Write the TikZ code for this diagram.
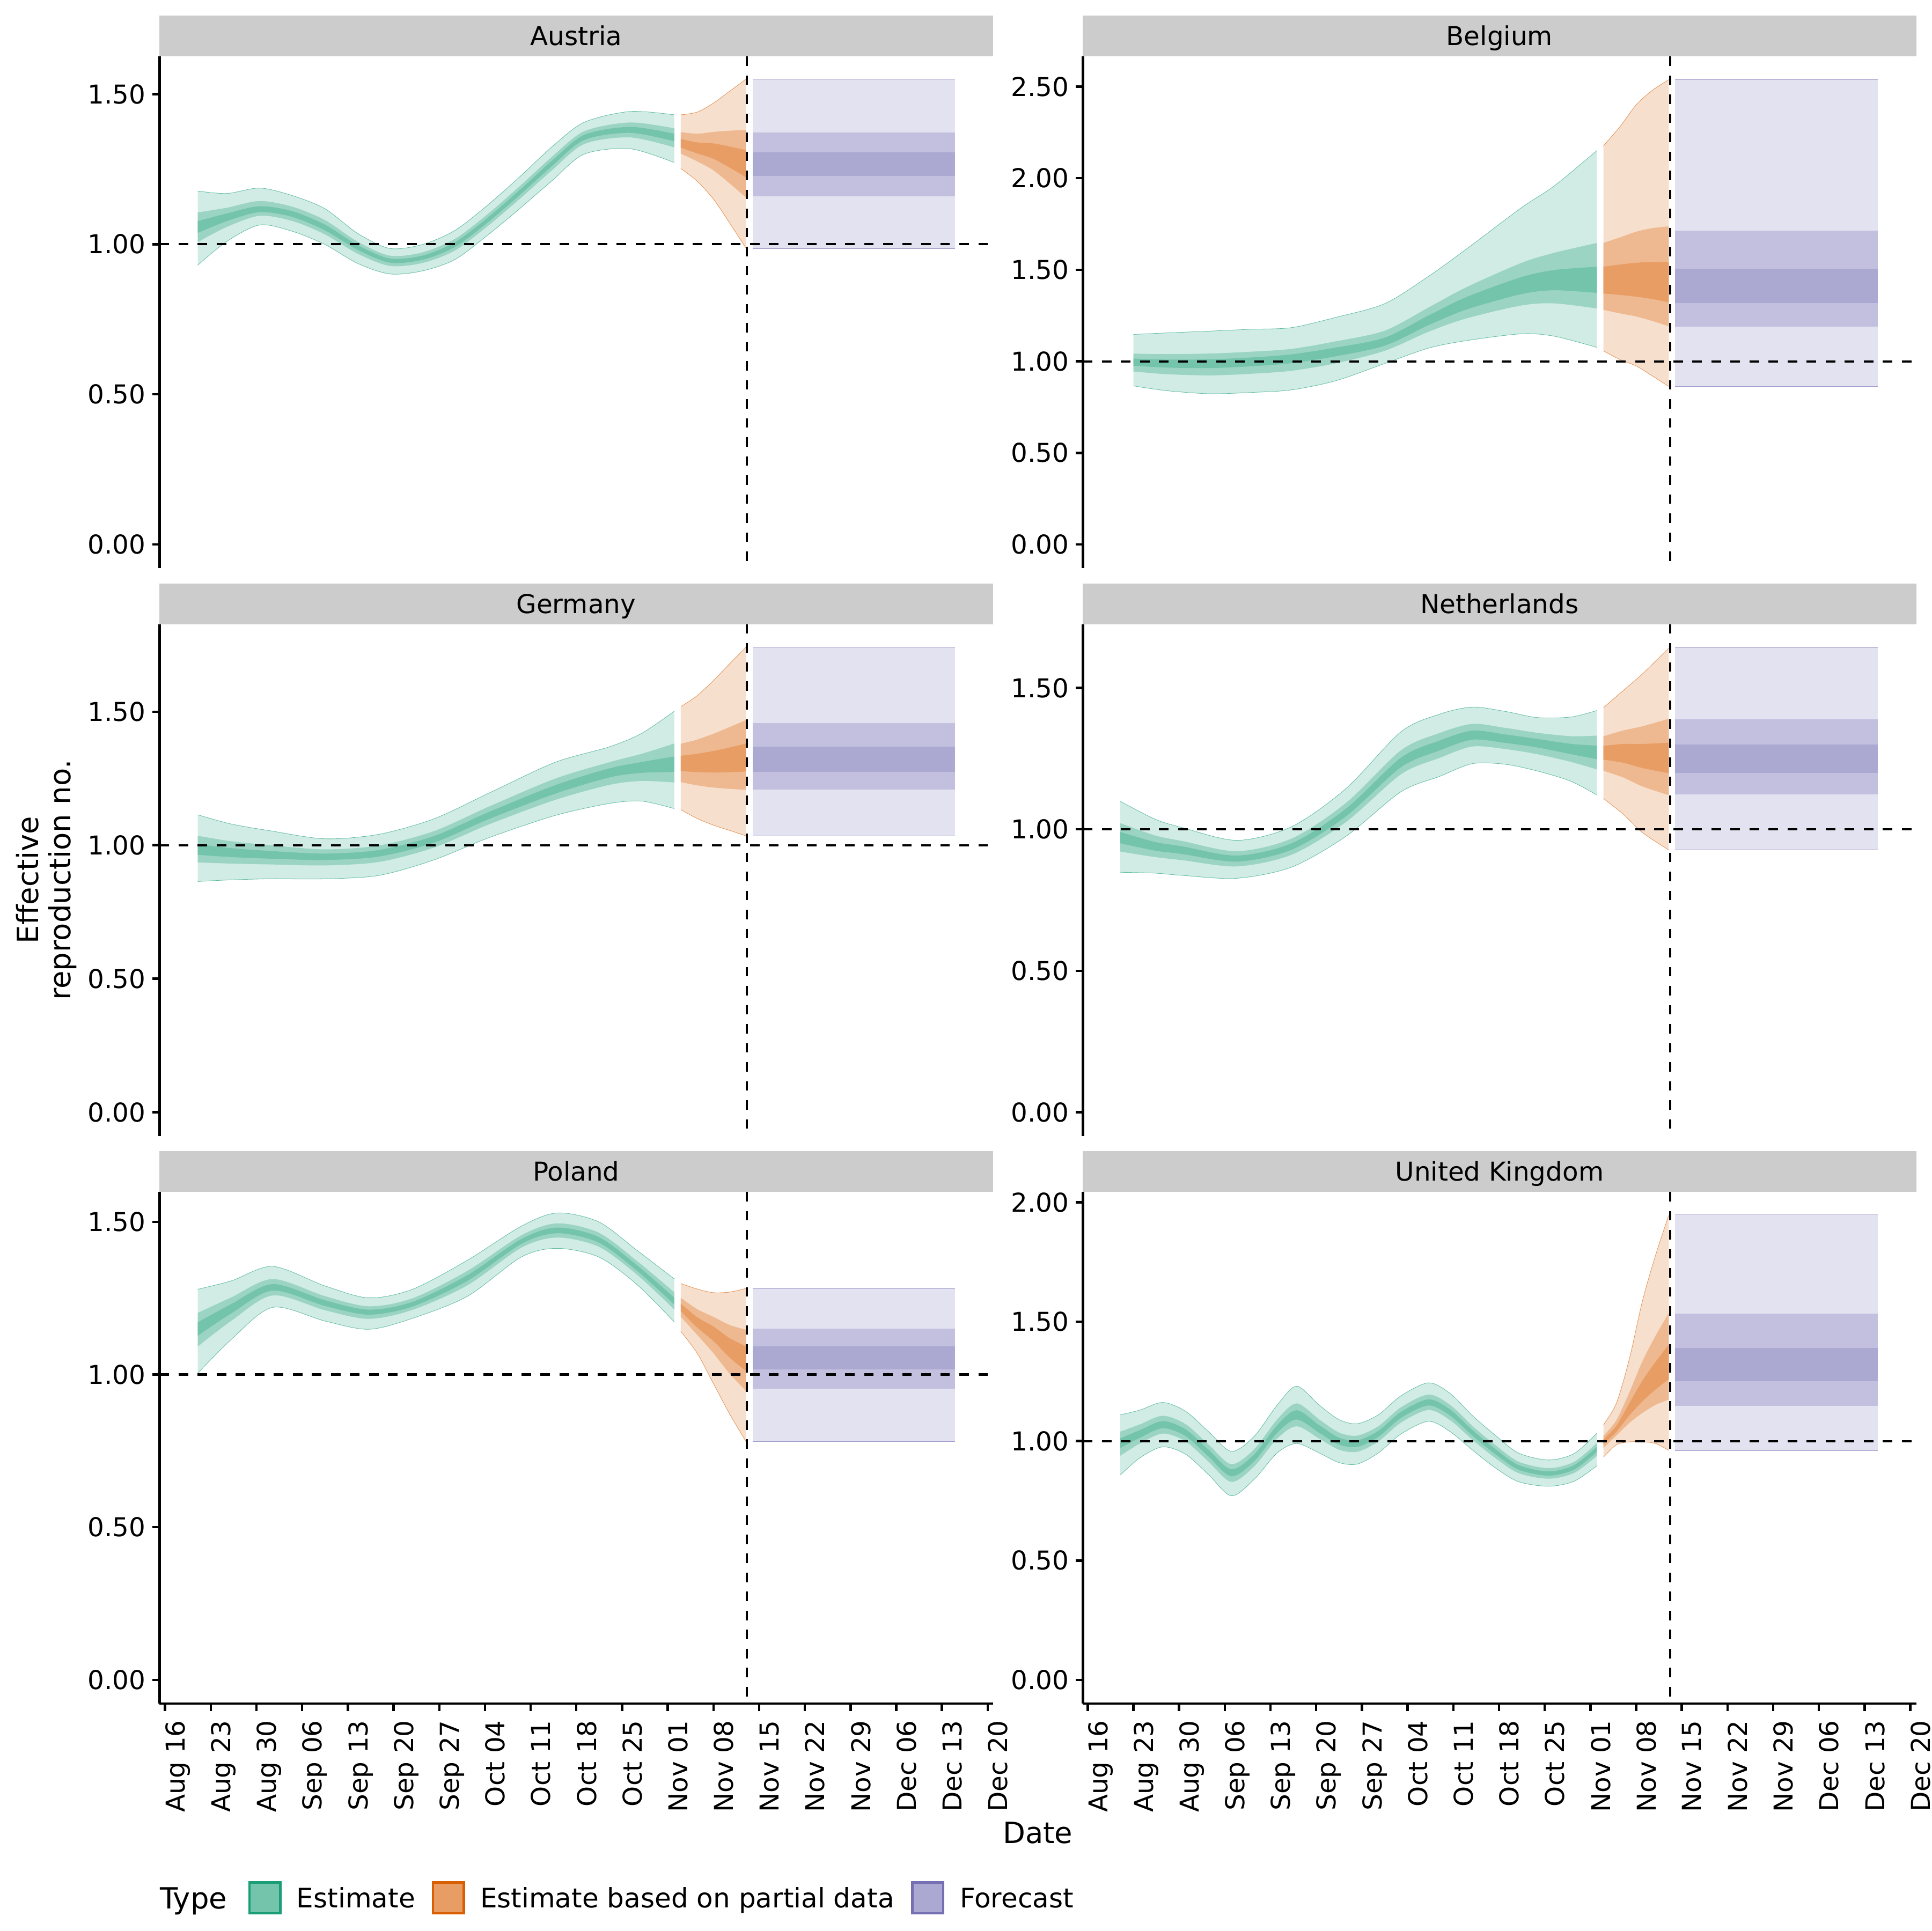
\documentclass[tikz,border=0pt]{standalone}
\usepackage{fontspec}
\setmainfont{DejaVu Sans}
\usepackage{tikz}

\definecolor{est}{HTML}{1B9E77}
\definecolor{part}{HTML}{D95F02}
\definecolor{fcst}{HTML}{7570B3}
\definecolor{stripgrey}{HTML}{CCCCCC}

\newcommand\ticksize{\fontsize{12}{14}\selectfont}
\newcommand\legsize{\fontsize{12.4}{14}\selectfont}
\newcommand\titlesize{\fontsize{13.5}{14.8}\selectfont}

\tikzset{
  strip/.style={fill=stripgrey},
  striplab/.style={anchor=base,inner sep=0pt,font=\ticksize},
  ticklab/.style={anchor=east,inner sep=0pt,font=\ticksize},
  datelab/.style={rotate=90,anchor=north east,inner sep=0pt,font=\ticksize},
  axisline/.style={line width=1.1pt},
  refline/.style={line width=1pt,dash pattern=on 4.4pt off 4.4pt},
  keybox/.style={minimum size=.5cm,inner sep=0pt,line width=1.1pt},
  leglab/.style={anchor=base west,inner sep=0pt,font=\legsize}
}

% ribbon: knots day/lower/centre/upper of the outer band,
% optional ratio of the middle band above the centre
\newcommand\ribbon[3][0.4]{%
  \gdef\rO{}\gdef\rOb{}\gdef\rM{}\gdef\rMb{}\gdef\rI{}\gdef\rIb{}%
  \foreach \kd/\kl/\km/\ku in {#3}{%
    \pgfmathsetmacro\mU{\km+#1*(\ku-\km)}\pgfmathsetmacro\mL{\km-0.4*(\km-\kl)}%
    \pgfmathsetmacro\iU{\km+0.4*#1*(\ku-\km)}\pgfmathsetmacro\iL{\km-0.16*(\km-\kl)}%
    \xdef\rO{\rO(\kd,\ku)}\xdef\rOb{(\kd,\kl)\rOb}%
    \xdef\rM{\rM(\kd,\mU)}\xdef\rMb{(\kd,\mL)\rMb}%
    \xdef\rI{\rI(\kd,\iU)}\xdef\rIb{(\kd,\iL)\rIb}}%
  \edef\rDraw{%
    \noexpand\fill[#2!20] plot[smooth] coordinates {\rO} -- plot[smooth] coordinates {\rOb} -- cycle;
    \noexpand\fill[#2!44] plot[smooth] coordinates {\rM} -- plot[smooth] coordinates {\rMb} -- cycle;
    \noexpand\fill[#2!61] plot[smooth] coordinates {\rI} -- plot[smooth] coordinates {\rIb} -- cycle;
    \noexpand\draw[#2!70,line width=.2pt] plot[smooth] coordinates {\rO};
    \noexpand\draw[#2!70,line width=.2pt] plot[smooth] coordinates {\rOb};}%
  \rDraw}

% forecast boxes: outer lo, mid lo, inner lo, inner hi, mid hi, outer hi
\newcommand\forecast[6]{%
  \fill[fcst!20] (90,#1) rectangle (121,#6);
  \fill[fcst!44] (90,#2) rectangle (121,#5);
  \fill[fcst!61] (90,#3) rectangle (121,#4);
  \draw[fcst!70,line width=.2pt] (90,#1) -- (121,#1) (90,#6) -- (121,#6);}

% panel frame: axis x, strip top, country, px per unit, y ticks, id
\newcommand\panel[6]{%
  \fill[strip] (#1,#2) rectangle ++(676.5,33);
  \node[striplab] (s-#6) at (#1+338.2,#2+24.2) {#3};
  \foreach \v in {#5}{%
    \draw[axisline] (#1-6,{#2+429.3-#4*\v}) -- (#1,{#2+429.3-#4*\v});
    \node[ticklab] (t-#6-\v) at (#1-11,{#2+429.3-#4*\v}) {\v};}
  \draw[refline] (#1,#2+429.3-#4) -- ++(676.5,0);
  \draw[refline] (#1+476.7,#2+33) -- (#1+476.7,#2+448.6);
  \draw[axisline] (#1,#2+33) -- (#1,#2+448.6);}

\begin{document}
\begin{tikzpicture}[x=0.02cm,y=-0.02cm]
  \useasboundingbox[fill=white] (0,0) rectangle (1568,1568);

  % Austria
  \begin{scope}[shift={(134,442.1)},xscale=5.3,yscale=-243.8]
    \ribbon{est}{5/0.93/1.058/1.177, 9.5/1.01/1.09/1.169, 14.5/1.064/1.115/1.187, 19.5/1.043/1.10/1.162,
      24.5/0.999/1.055/1.118, 29.5/0.936/0.99/1.036, 34.4/0.901/0.946/0.986, 39.4/0.911/0.955/0.999,
      44.4/0.949/0.999/1.046, 49.4/1.03/1.08/1.13, 54.3/1.118/1.172/1.224, 59.3/1.212/1.27/1.325,
      64.2/1.30/1.356/1.406, 71.2/1.318/1.381/1.442, 78/1.272/1.356/1.431}
    \ribbon{part}{79/1.252/1.335/1.431, 81.5/1.21/1.32/1.44, 84/1.15/1.31/1.47, 86.5/1.07/1.29/1.51, 89/0.986/1.268/1.55}
    \forecast{0.986}{1.159}{1.227}{1.306}{1.372}{1.55}
  \end{scope}
  \panel{129.5}{12.8}{Austria}{243.8}{0.00,0.50,1.00,1.50}{at}

  % Belgium
  \begin{scope}[shift={(883,442.1)},xscale=5.3,yscale=-148.7]
    \ribbon[0.3]{est}{7/0.866/0.997/1.147, 12/0.84/0.99/1.155, 18.7/0.823/0.99/1.165, 25/0.83/1.0/1.175,
      31.2/0.844/1.018/1.184, 38/0.894/1.053/1.24, 45.5/0.988/1.104/1.315, 52.2/1.072/1.221/1.464,
      58/1.113/1.315/1.613, 66.4/1.15/1.408/1.838, 71.5/1.137/1.436/1.959, 78/1.076/1.43/2.151}
    \ribbon[0.29]{part}{79/1.057/1.43/2.177, 81.5/1.01/1.43/2.28, 84/0.975/1.425/2.40, 86.5/0.92/1.42/2.48, 89/0.863/1.41/2.538}
    \forecast{0.863}{1.19}{1.318}{1.505}{1.714}{2.538}
  \end{scope}
  \panel{879.1}{12.8}{Belgium}{148.7}{0.00,0.50,1.00,1.50,2.00,2.50}{be}

  % Germany
  \begin{scope}[shift={(134,903.1)},xscale=5.3,yscale=-216.8]
    \ribbon{est}{5/0.864/0.983/1.114, 10/0.87/0.972/1.08, 16.1/0.874/0.964/1.054, 24.5/0.874/0.958/1.024,
      32.8/0.887/0.971/1.041, 41.2/0.945/1.022/1.099, 49.6/1.028/1.111/1.195, 59.7/1.111/1.208/1.31,
      68/1.156/1.272/1.368, 73/1.165/1.291/1.419, 78/1.137/1.30/1.502}
    \ribbon[0.35]{part}{79/1.133/1.305/1.519, 81.5/1.10/1.307/1.56, 84/1.075/1.31/1.617, 86.5/1.055/1.315/1.68, 89/1.035/1.322/1.742}
    \forecast{1.035}{1.208}{1.274}{1.37}{1.457}{1.742}
  \end{scope}
  \panel{129.5}{473.8}{Germany}{216.8}{0.00,0.50,1.00,1.50}{de}

  % Netherlands
  \begin{scope}[shift={(883,903.1)},xscale=5.3,yscale=-229.7]
    \ribbon{est}{5/0.848/0.97/1.099, 10.3/0.845/0.94/1.036, 14.5/0.837/0.927/1.006, 22.9/0.827/0.897/0.961,
      31.3/0.867/0.94/1.01, 39.6/0.976/1.06/1.145, 48/1.133/1.236/1.345, 53.9/1.187/1.296/1.407,
      58.9/1.232/1.333/1.432, 63.9/1.23/1.32/1.417, 68.9/1.206/1.305/1.395, 74/1.17/1.284/1.397, 78/1.121/1.272/1.42}
    \ribbon[0.36]{part}{79/1.109/1.272/1.43, 82/1.054/1.27/1.49, 85/0.988/1.26/1.55, 89/0.927/1.25/1.641}
    \forecast{0.927}{1.123}{1.20}{1.30}{1.389}{1.643}
  \end{scope}
  \panel{879.1}{473.8}{Netherlands}{229.7}{0.00,0.50,1.00,1.50}{nl}

  % Poland
  \begin{scope}[shift={(134,1364.1)},xscale=5.3,yscale=-248]
    \ribbon{est}{5/1.004/1.15/1.279, 10.2/1.116/1.217/1.307, 16.5/1.22/1.285/1.354, 24.5/1.175/1.234/1.29,
      31.2/1.148/1.205/1.251, 37.9/1.184/1.23/1.279, 46.3/1.256/1.316/1.374, 54.6/1.385/1.436/1.486,
      60.1/1.413/1.472/1.529, 66.4/1.385/1.441/1.50, 72.2/1.296/1.35/1.408, 78/1.172/1.24/1.313}
    \ribbon{part}{79/1.141/1.22/1.298, 81.5/1.07/1.17/1.28, 84/0.97/1.136/1.268, 86.5/0.87/1.09/1.27, 89/0.78/1.056/1.282}
    \forecast{0.78}{0.954}{1.016}{1.092}{1.15}{1.282}
  \end{scope}
  \panel{129.5}{934.8}{Poland}{248}{0.00,0.50,1.00,1.50}{pl}

  % United Kingdom
  \begin{scope}[shift={(883,1364.1)},xscale=5.3,yscale=-193.9]
    \ribbon{est}{5/0.858/0.993/1.11, 8/0.93/1.03/1.13, 11.5/0.976/1.069/1.162, 15/0.945/1.035/1.125,
      18.5/0.86/0.95/1.04, 22/0.771/0.868/0.957, 25.5/0.84/0.93/1.02, 29/0.95/1.05/1.15,
      32/0.99/1.11/1.23, 35.5/0.95/1.05/1.15, 38.5/0.91/1.0/1.09, 41.3/0.904/0.99/1.073,
      44.5/0.95/1.03/1.11, 48/1.03/1.11/1.19, 52.2/1.083/1.162/1.244, 55.5/1.04/1.12/1.2,
      59/0.961/1.033/1.105, 62.5/0.887/0.955/1.023, 66/0.83/0.89/0.95, 70.6/0.811/0.864/0.921,
      74.5/0.832/0.89/0.948, 78/0.897/0.966/1.033}
    \ribbon[0.35]{part}{79/0.933/0.997/1.069, 81/0.985/1.05/1.16, 83/0.997/1.13/1.348, 85/0.997/1.20/1.59, 87/0.99/1.26/1.78, 89/0.961/1.316/1.946}
    \forecast{0.961}{1.148}{1.251}{1.391}{1.534}{1.95}
  \end{scope}
  \panel{879.1}{934.8}{United Kingdom}{193.9}{0.00,0.50,1.00,1.50,2.00}{uk}

  % shared date axes
  \draw[axisline] (129.5,1383.3) -- (806,1383.3);
  \draw[axisline] (879.1,1383.3) -- (1555.6,1383.3);
  \foreach \cx in {134,883}
    \foreach \lab [count=\k from 0] in {Aug 16,Aug 23,Aug 30,Sep 06,Sep 13,Sep 20,Sep 27,Oct 04,Oct 11,Oct 18,
        Oct 25,Nov 01,Nov 08,Nov 15,Nov 22,Nov 29,Dec 06,Dec 13,Dec 20}{
      \draw[axisline] (\cx+37.1*\k,1383.3) -- ++(0,6);
      \node[datelab] (dl-\k) at (\cx+37.1*\k,1396.6) {\lab};
    }

  % axis titles
  \node[font=\titlesize,anchor=base,inner sep=0pt] (xtitle) at (842.5,1496.6) {Date};
  \node[font=\titlesize,rotate=90,align=center,inner sep=0pt] (ytitle) at (37.6,714.5) {Effective\\reproduction no.};

  % legend
  \node[font=\titlesize,anchor=base west,inner sep=0pt] (legtitle) at (129.5,1549.7) {Type};
  \node[keybox,fill=est!61,draw=est] (kEst) at (215.1,1541) {};
  \node[leglab] (lEst) at (240.5,1548.9) {Estimate};
  \node[keybox,fill=part!61,draw=part] (kPart) at (364,1541) {};
  \node[leglab] (lPart) at (389.5,1548.9) {Estimate based on partial data};
  \node[keybox,fill=fcst!61,draw=fcst] (kFcst) at (753.1,1541) {};
  \node[leglab] (lFcst) at (779,1548.9) {Forecast};
\end{tikzpicture}
\end{document}
